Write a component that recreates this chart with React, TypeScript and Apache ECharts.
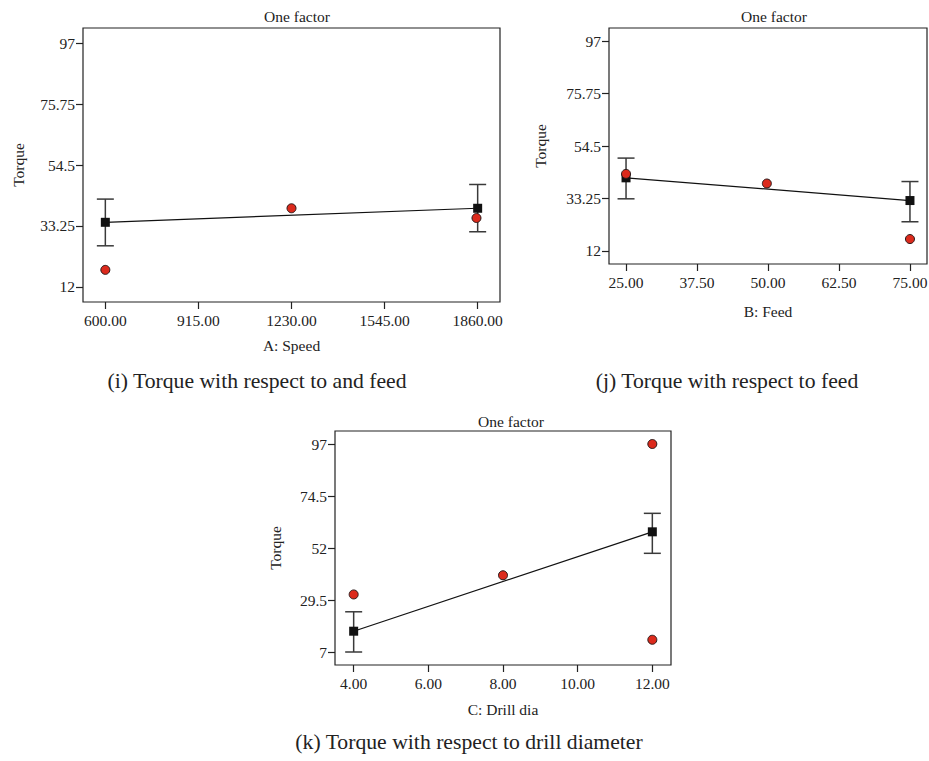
import React, { useEffect, useRef } from "react";
import * as echarts from "echarts";

// ---- data ----
const speedTicks = [600, 915, 1230, 1545, 1860];
const feedTicks = [25, 37.5, 50, 62.5, 75];
const drillTicks = [4, 6, 8, 10, 12];
const torqueTicksAB = [12, 33.25, 54.5, 75.75, 97];
const torqueTicksC = [7, 29.5, 52, 74.5, 97];

const speedLevels = [600, 1860];
const speedMean = [34.5, 39.4];
const speedLow = [26.3, 31.2];
const speedHigh = [42.6, 47.7];
const speedObsX = [600, 1230, 1856];
const speedObsY = [17.9, 39.4, 36.0];

const feedLevels = [25, 75];
const feedMean = [41.6, 32.4];
const feedLow = [33.1, 23.8];
const feedHigh = [49.6, 40.1];
const feedObsX = [25, 49.8, 75];
const feedObsY = [43.2, 39.3, 16.8];

const drillLevels = [4, 12];
const drillMean = [16.0, 59.0];
const drillLow = [7.0, 49.7];
const drillHigh = [24.4, 67.0];
const drillObsX = [4, 8, 12, 12];
const drillObsY = [31.9, 40.2, 97, 12.3];

const captions = [
  "(i) Torque with respect to and feed",
  "(j) Torque with respect to feed",
  "(k) Torque with respect to drill diameter",
];

const FONT = '"Liberation Serif", "Times New Roman", serif';
const TXT = "#222";

export default function App() {
  const ref = useRef<HTMLDivElement>(null);
  useEffect(() => {
    if (!ref.current) return;
    const chart = echarts.init(ref.current, undefined, { renderer: "svg" });

    const grids = [
      { left: 83, top: 28, width: 417, height: 274 },
      { left: 609, top: 28, width: 318, height: 236 },
      { left: 335, top: 431, width: 336, height: 234 },
    ];
    const xInfo = [
      { ticks: speedTicks, min: 524.4, max: 1935.6, name: "A: Speed", gap: 35 },
      { ticks: feedTicks, min: 22, max: 78, name: "B: Feed", gap: 39 },
      { ticks: drillTicks, min: 3.5, max: 12.5, name: "C: Drill dia", gap: 36 },
    ];
    const yInfo = [
      { ticks: torqueTicksAB, min: 6.6875, max: 102.3125, gap: 57 },
      { ticks: torqueTicksAB, min: 6.6875, max: 102.3125, gap: 61 },
      { ticks: torqueTicksC, min: 1.375, max: 102.625, gap: 52 },
    ];
    const levels = [speedLevels, feedLevels, drillLevels];
    const means = [speedMean, feedMean, drillMean];
    const lows = [speedLow, feedLow, drillLow];
    const highs = [speedHigh, feedHigh, drillHigh];
    const obsX = [speedObsX, feedObsX, drillObsX];
    const obsY = [speedObsY, feedObsY, drillObsY];

    const series: any[] = [];
    for (let i = 0; i < 3; i++) {
      series.push({
        type: "custom",
        xAxisIndex: i,
        yAxisIndex: i,
        z: 1,
        data: levels[i].map((x, k) => [x, lows[i][k], highs[i][k]]),
        renderItem: (params: any, api: any) => {
          const x = api.value(0);
          const lo = api.coord([x, api.value(1)]);
          const hi = api.coord([x, api.value(2)]);
          const w = 8.5;
          const st = { stroke: "#3a3a3a", lineWidth: 1.5 };
          return {
            type: "group",
            children: [
              { type: "line", shape: { x1: lo[0], y1: lo[1], x2: hi[0], y2: hi[1] }, style: st },
              { type: "line", shape: { x1: lo[0] - w, y1: lo[1], x2: lo[0] + w, y2: lo[1] }, style: st },
              { type: "line", shape: { x1: hi[0] - w, y1: hi[1], x2: hi[0] + w, y2: hi[1] }, style: st },
            ],
          };
        },
      });
      series.push({
        type: "line",
        xAxisIndex: i,
        yAxisIndex: i,
        z: 2,
        data: levels[i].map((x, k) => [x, means[i][k]]),
        symbol: "rect",
        symbolSize: 9,
        itemStyle: { color: "#111" },
        lineStyle: { color: "#111", width: 1.2 },
      });
      series.push({
        type: "scatter",
        xAxisIndex: i,
        yAxisIndex: i,
        z: 3,
        data: obsX[i].map((x, k) => [x, obsY[i][k]]),
        symbol: "circle",
        symbolSize: 9,
        itemStyle: { color: "#dc2a1c", borderColor: "#2a1a1a", borderWidth: 1, opacity: 1 },
      });
    }

    const titleCenters = [
      { x: 292, y: 3 },
      { x: 769, y: 3 },
      { x: 506, y: 408 },
    ];
    const captionPos = [
      { x: 257, y: 381 },
      { x: 727, y: 381 },
      { x: 469, y: 742 },
    ];

    const option: any = {
      animation: false,
      backgroundColor: "#fff",
      textStyle: { fontFamily: FONT, color: TXT },
      title: titleCenters.map((t) => ({
        text: "One factor",
        left: t.x,
        top: t.y,
        textAlign: "center",
        textStyle: { fontFamily: FONT, fontSize: 15.5, fontWeight: "normal", color: TXT },
      })),
      grid: grids.map((g) => ({
        ...g,
        show: true,
        borderColor: "#222",
        borderWidth: 1.2,
        containLabel: false,
        outerBoundsMode: "none",
      })),
      xAxis: xInfo.map((a, i) => ({
        type: "value",
        gridIndex: i,
        min: a.min,
        max: a.max,
        name: a.name,
        nameLocation: "middle",
        nameGap: a.gap,
        nameTextStyle: { fontFamily: FONT, fontSize: 15.5, color: TXT },
        axisLine: { show: false },
        splitLine: { show: false },
        axisTick: { show: true, length: 7, lineStyle: { color: "#222", width: 1.2 }, customValues: a.ticks },
        axisLabel: {
          fontFamily: FONT,
          fontSize: 15.5,
          color: TXT,
          margin: 10,
          customValues: a.ticks,
          formatter: (v: number) => v.toFixed(2),
        },
      })),
      yAxis: yInfo.map((a, i) => ({
        type: "value",
        gridIndex: i,
        min: a.min,
        max: a.max,
        name: "Torque",
        nameLocation: "middle",
        nameGap: a.gap,
        nameRotate: 90,
        nameTextStyle: { fontFamily: FONT, fontSize: 15.5, color: TXT },
        axisLine: { show: false },
        splitLine: { show: false },
        axisTick: { show: true, length: 7, lineStyle: { color: "#222", width: 1.2 }, customValues: a.ticks },
        axisLabel: {
          fontFamily: FONT,
          fontSize: 15.5,
          color: TXT,
          margin: 8,
          customValues: a.ticks,
          formatter: (v: number) => String(v),
        },
      })),
      graphic: captions.map((c, i) => ({
        type: "text",
        x: captionPos[i].x,
        y: captionPos[i].y,
        style: {
          text: c,
          font: `21.7px ${FONT}`,
          fill: TXT,
          textAlign: "center",
          textVerticalAlign: "middle",
        },
      })),
      series,
    };
    chart.setOption(option);
    return () => chart.dispose();
  }, []);
  return <div ref={ref} style={{ position: "fixed", left: 0, top: 0, width: 929, height: 761 }} />;
}
